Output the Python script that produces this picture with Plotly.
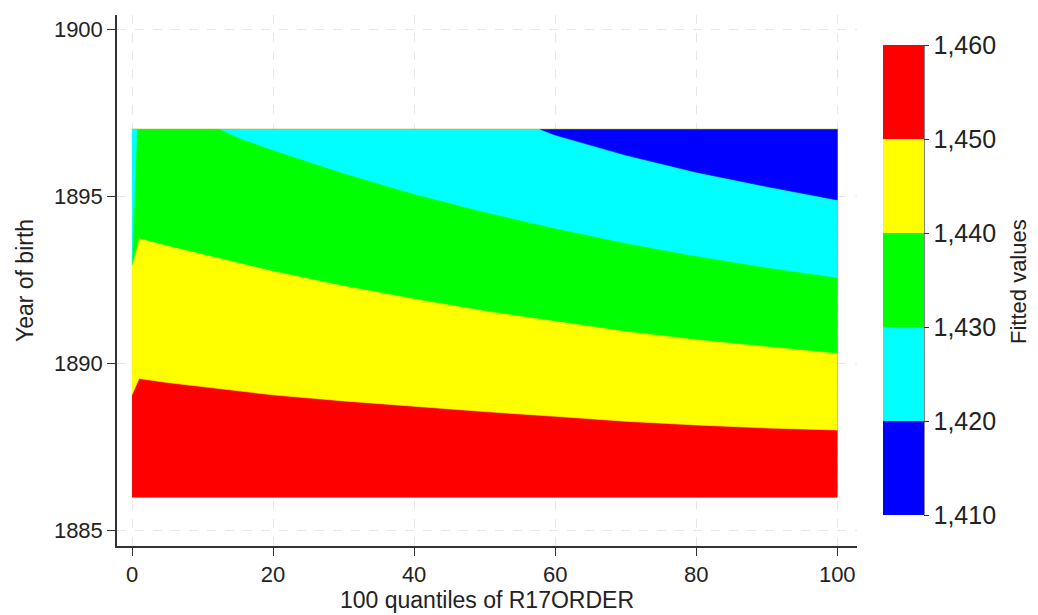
import plotly.graph_objects as go

# ---- data ----
levels = [1410, 1420, 1430, 1440, 1450, 1460]
band_colors = ["#0000FF", "#00FFFF", "#00FF00", "#FFFF00", "#FF0000"]  # 1410-1420 ... 1450-1460

x_min, x_max = 0, 100          # quantile range covered by the fit
y_min, y_max = 1886, 1897      # year-of-birth range covered by the fit

# contour line positions (year at which fitted value crosses level)
b1450_x = [0, 1, 5, 10, 20, 30, 40, 50, 60, 70, 80, 90, 100]
b1450_y = [1889.06, 1889.55, 1889.43, 1889.30, 1889.06, 1888.88, 1888.71,
           1888.56, 1888.42, 1888.27, 1888.16, 1888.07, 1888.01]

b1440_x = [0, 1, 5, 10, 20, 30, 40, 50, 60, 70, 80, 90, 100]
b1440_y = [1892.94, 1893.75, 1893.53, 1893.27, 1892.77, 1892.33, 1891.94,
           1891.58, 1891.27, 1890.97, 1890.72, 1890.51, 1890.31]

b1430_left_x = [0, 0.7]
b1430_left_y = [1893.0, 1897.0]
b1430_x = [12.5, 15, 20, 30, 40, 50, 60, 70, 80, 90, 100]
b1430_y = [1897.0, 1896.76, 1896.38, 1895.69, 1895.07, 1894.53, 1894.04,
           1893.60, 1893.21, 1892.87, 1892.57]

b1420_x = [57.9, 60, 70, 80, 90, 100]
b1420_y = [1897.0, 1896.83, 1896.23, 1895.72, 1895.29, 1894.89]

x_ticks = [0, 20, 40, 60, 80, 100]
y_ticks = [1885, 1890, 1895, 1900]

FONT = "Liberation Sans, Arial, sans-serif"
TXT = "#222222"
AX = "#333333"

# page body has an 8px margin; plot area in page pixels: x 117-857, y 15-546
W, H = 1030, 607
L, R, T, B = 109, 181, 7, 69
PW, PH = W - L - R, H - T - B

fig = go.Figure()


def layer(xs, ys, color):
    fig.add_trace(go.Scatter(x=xs, y=ys, mode="lines", fill="toself",
                             fillcolor=color, line=dict(width=0.6, color=color),
                             hoverinfo="skip", showlegend=False))


# painter's layering: each level region drawn over the previous one
layer([x_min, x_max, x_max, x_min], [y_min, y_min, y_max, y_max], band_colors[4])
layer(b1450_x + [x_max, x_min], b1450_y + [y_max, y_max], band_colors[3])
layer(b1440_x + [x_max, x_min], b1440_y + [y_max, y_max], band_colors[2])
layer(b1430_left_x + [x_min], b1430_left_y + [y_max], band_colors[1])
layer(b1430_x + [x_max], b1430_y + [y_max], band_colors[1])
layer(b1420_x + [x_max], b1420_y + [y_max], band_colors[0])

# colour key
n = len(band_colors)
cscale = []
for i, c in enumerate(band_colors):
    cscale.append([i / n, c])
    cscale.append([(i + 1) / n, c])

cb_left = (883 - 117) / PW
cb_right = (924 - 117) / PW
cb_bot = (546 - 515) / PH
cb_top = (546 - 45) / PH

fig.add_trace(go.Scatter(
    x=[None], y=[None], mode="markers", hoverinfo="skip", showlegend=False,
    marker=dict(color=[levels[0]], cmin=levels[0], cmax=levels[-1],
                colorscale=cscale, showscale=True,
                colorbar=dict(
                    x=cb_left, xanchor="left", xpad=0,
                    y=(cb_bot + cb_top) / 2, yanchor="middle", ypad=0,
                    thickness=41, lenmode="pixels", len=470,
                    outlinewidth=0,
                    tickvals=levels, tickformat=",d",
                    ticks="outside", ticklen=5, tickcolor=AX,
                    tickfont=dict(family=FONT, size=25, color=TXT),
                ))))

fig.update_layout(
    width=W, height=H,
    margin=dict(l=L, r=R, t=T, b=B),
    paper_bgcolor="white", plot_bgcolor="white",
    font=dict(family=FONT, size=21, color=TXT),
    xaxis=dict(range=[-2.13, 102.8], tickvals=x_ticks, ticks="outside",
               ticklen=8, tickcolor=AX, showline=True, linecolor=AX,
               linewidth=1.5, zeroline=False, showgrid=True,
               gridcolor="#E6E6E6", griddash="dash", gridwidth=1.2,
               tickfont=dict(size=22),
               title=dict(text="100 quantiles of R17ORDER", standoff=2,
                          font=dict(size=23)),
               automargin=False),
    yaxis=dict(range=[1884.54, 1900.42], tickvals=y_ticks, ticks="outside",
               ticklen=8, tickcolor=AX, showline=True, linecolor=AX,
               linewidth=1.5, zeroline=False, showgrid=True,
               gridcolor="#E6E6E6", griddash="dash", gridwidth=1.2,
               tickfont=dict(size=22),
               title=dict(text="Year of birth", standoff=14,
                          font=dict(size=23)),
               automargin=False),
    shapes=[dict(type="line", xref="paper", yref="paper",
                 x0=cb_right, x1=cb_right, y0=cb_bot, y1=cb_top,
                 line=dict(color=AX, width=1.2))],
    annotations=[dict(text="Fitted values", textangle=-90, showarrow=False,
                      xref="paper", yref="paper",
                      x=(1019 - 117) / PW, y=(546 - 282) / PH,
                      xanchor="center", yanchor="middle",
                      font=dict(family=FONT, size=22, color=TXT))],
)

fig.write_html("out.html")
